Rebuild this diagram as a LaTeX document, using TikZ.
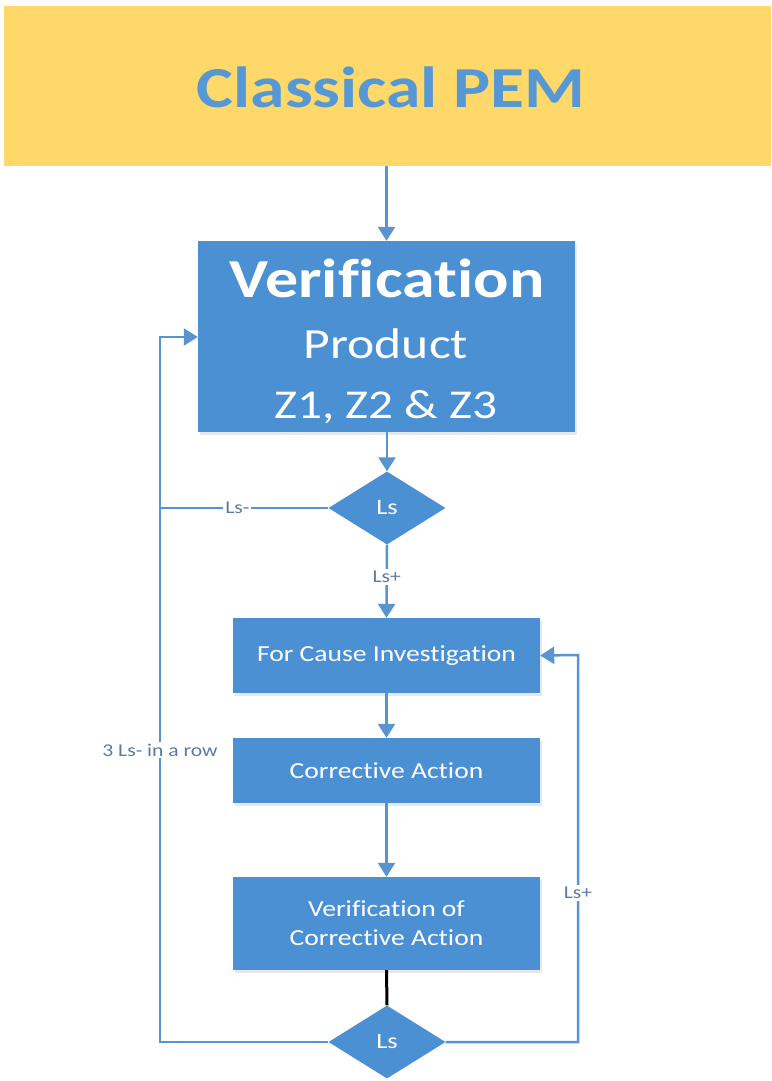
\documentclass[tikz,border=0pt]{standalone}
\usepackage{fontspec}
\setmainfont{Carlito}[FakeStretch=1.2, Ligatures=NoCommon]
\usetikzlibrary{arrows.meta,shapes.geometric,shadows}
\definecolor{hdr}{RGB}{255,216,106}
\definecolor{boxblue}{RGB}{74,144,210}
\definecolor{lineblue}{RGB}{88,148,208}
\definecolor{titleblue}{RGB}{86,152,213}
\definecolor{lbl}{RGB}{90,122,165}
\begin{document}
\begin{tikzpicture}[x=1pt,y=-1pt,
  procbox/.style={rectangle, fill=boxblue, text=white, inner sep=0pt, align=center,
    minimum width=307pt, font=\fontsize{23}{29}\selectfont,
    drop shadow={opacity=0.18, shadow xshift=2pt, shadow yshift=-3pt}},
  dec/.style={diamond, fill=boxblue, text=white, minimum width=117pt, minimum height=73pt,
    inner sep=0pt, aspect=1.6, font=\fontsize{22}{24}\selectfont},
  flow/.style={draw=lineblue, line width=2.5pt, -{Triangle[width=17pt,length=14pt]}},
  conn/.style={draw=lineblue, line width=2.5pt},
  tag/.style={fill=white, text=lbl, font=\fontsize{18}{20}\selectfont, inner sep=2pt},
  intext/.style={text=white, anchor=base, inner sep=0pt}]
\useasboundingbox[fill=white] (0,0) rectangle (771,1081);

% header
\node[fill=hdr, minimum width=767pt, minimum height=160pt, inner sep=0pt] (hdr) at (387.5,86) {};
\node[text=titleblue, font=\bfseries\fontsize{58}{60}\selectfont, anchor=base, inner sep=0pt] (title) at (391,107) {Classical PEM};

% verification box
\node[procbox, minimum width=377pt, minimum height=191pt] (ver) at (386.5,336.5) {};
\node[intext, font=\bfseries\fontsize{55}{60}\selectfont] (vt1) at (387,297) {Verification};
\node[intext, font=\fontsize{43}{48}\selectfont] (vt2) at (386,358) {Product};
\node[intext, font=\fontsize{41}{46}\selectfont] (vt3) at (386,418) {Z1, Z2 \& Z3};

% decision 1
\node[dec] (d1) at (387,508) {Ls};

% process boxes
\node[procbox, minimum height=75pt] (fci) at (386.5,655.5) {For Cause Investigation};
\node[procbox, minimum height=65pt] (ca) at (386.5,770.5) {Corrective Action};
\node[procbox, minimum height=93pt] (vca) at (386.5,923.5) {Verification of\\Corrective Action};

% decision 2
\node[dec] (d2) at (387,1042) {Ls};

% loop corners
\coordinate (lb) at (160,1042);
\coordinate (lt) at (160,337);
\coordinate (lm) at (160,508);
\coordinate (rb) at (578,1042);
\coordinate (rt) at (578,655);

% connectors
\draw[flow] (hdr.south -| ver.north) -- (ver.north);
\draw[flow] (ver.south -| d1.north) -- (d1.north);
\draw[flow] (d1.south) -- node[tag, pos=0.44] {Ls+} (fci.north);
\draw[conn] (d1.west) -- node[tag, pos=0.54] {Ls-} (lm);
\draw[flow] (fci.south) -- (ca.north);
\draw[flow] (ca.south) -- (vca.north);
\draw[black, line width=3pt] (vca.south) -- (d2.north);
\draw[flow] (d2.west) -- (lb) -- node[tag, pos=0.414] {3 Ls- in a row} (lt) -- (lt -| ver.west);
\draw[flow] (d2.east) -- (rb) -- node[tag, pos=0.385] {Ls+} (rt) -- (fci.east);
\end{tikzpicture}
\end{document}
